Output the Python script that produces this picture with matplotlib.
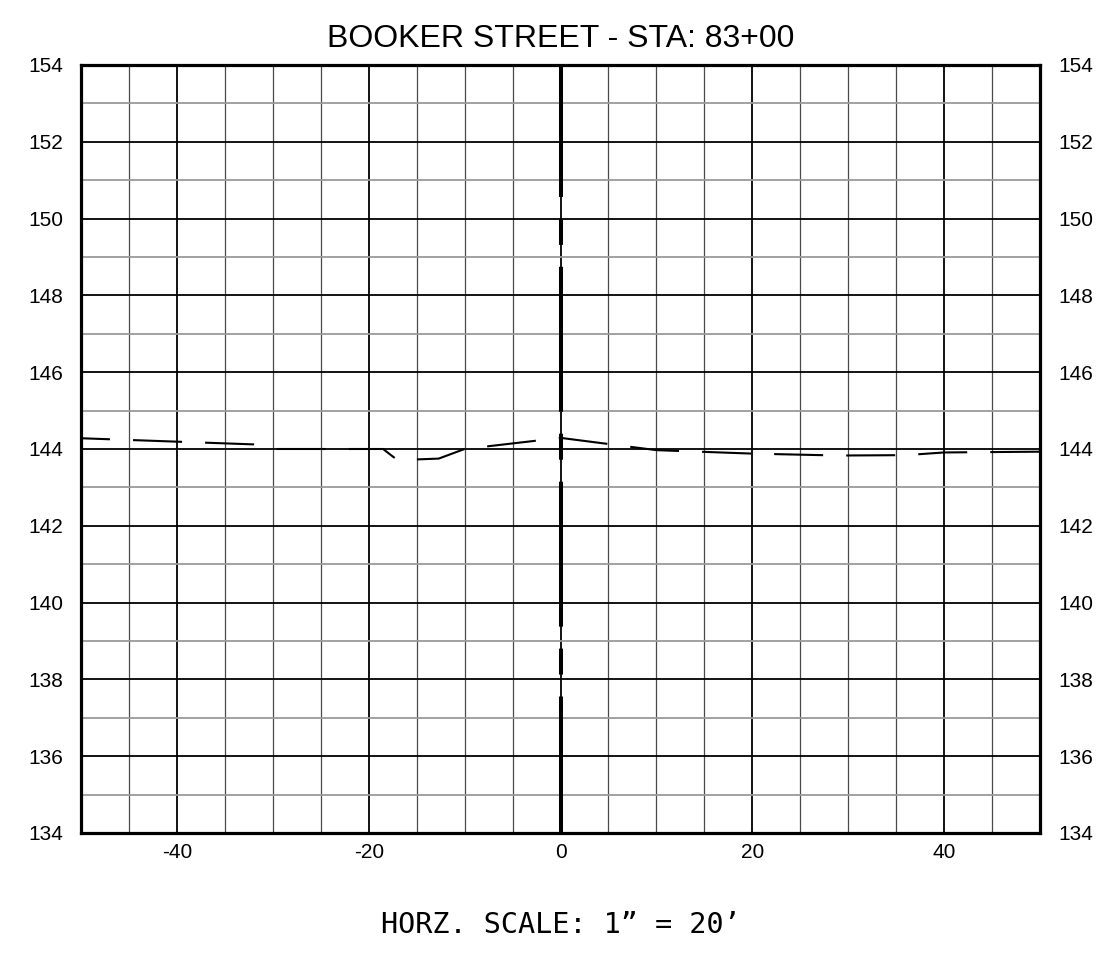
import matplotlib
matplotlib.use("Agg")
import matplotlib.pyplot as plt
from matplotlib.ticker import MultipleLocator, FixedLocator

plt.rcParams['lines.scale_dashes'] = False
plt.rcParams['font.family'] = ['Liberation Sans', 'DejaVu Sans']

# ---- data ----
title = "BOOKER STREET - STA: 83+00"
scale_note = "HORZ. SCALE: 1\u201d = 20\u2019"
offset_ft = [-50, -32, -30, -18.5, -17, -12.7, -10, 0, 10, 20, 29, 36, 40, 50]
elev_ft = [144.28, 144.12, 144.0, 144.0, 143.71, 143.75, 144.0, 144.29,
           143.97, 143.88, 143.83, 143.84, 143.91, 143.93]
x_range = (-50, 50)
y_range = (134, 154)
x_major = [-40, -20, 0, 20, 40]
centerline_x = 0

W, H = 1100, 957
fig = plt.figure(figsize=(W / 100, H / 100), dpi=100)
ax = fig.add_axes([81 / W, 1 - 833 / H, (1040 - 81) / W, (833 - 65) / H])
ax.set_xlim(*x_range)
ax.set_ylim(*y_range)

ax.xaxis.set_major_locator(FixedLocator(x_major))
ax.xaxis.set_minor_locator(MultipleLocator(5))
ax.yaxis.set_major_locator(MultipleLocator(2))
ax.yaxis.set_minor_locator(MultipleLocator(1))

ax.grid(which='minor', axis='x', color='#4a4a4a', lw=0.9, zorder=1)
ax.grid(which='major', axis='x', color='black', lw=1.3, zorder=1)
ax.grid(which='minor', axis='y', color='#9a9a9a', lw=1.3, zorder=1)
ax.grid(which='major', axis='y', color='black', lw=1.3, zorder=1)
ax.set_axisbelow(True)

ax.tick_params(which='both', length=0)
ax.tick_params(axis='x', labelsize=15, pad=7)
ax.tick_params(axis='y', labelsize=15, pad=13, labelleft=True, labelright=True)
ax.set_yticks(range(134, 155, 2))
ax.set_yticklabels([str(v) for v in range(134, 155, 2)])
ax.set_xticklabels([str(v) for v in x_major])

for s in ax.spines.values():
    s.set_linewidth(2.3)
    s.set_zorder(5)

# centerline (thick dash-dot over thin line)
ax.plot([centerline_x, centerline_x], [y_range[1], y_range[0]], color='black',
        lw=2.9, solid_capstyle='butt', dash_capstyle='butt',
        linestyle=(9.4, (104.4, 15.8, 18.7, 15.8)), zorder=3)

# ground profile
ax.plot(offset_ft, elev_ft, color='black', lw=1.5,
        linestyle=(14.4, (35.3, 16.6)), dash_capstyle='butt', zorder=4)

fig.text(561 / W, 1 - 47 / H, title, ha='center', va='baseline', fontsize=23)
fig.text(561 / W, 1 - 933 / H, scale_note, ha='center', va='baseline',
         fontsize=20.5, family=['DejaVu Sans Mono'])

fig.savefig("out.png", dpi=100)
